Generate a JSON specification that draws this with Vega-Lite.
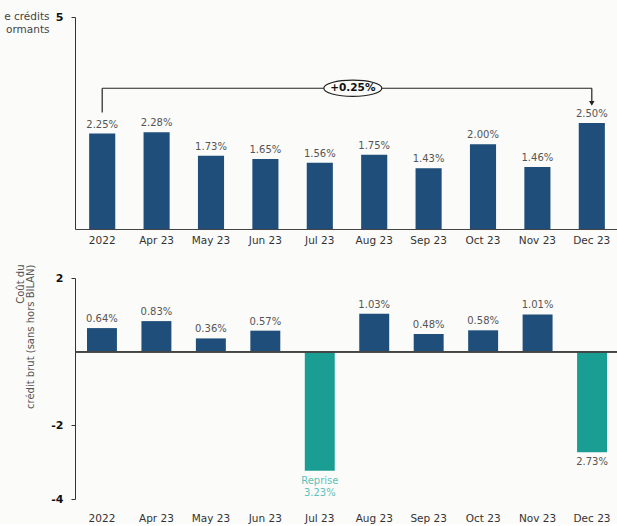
{
  "$schema": "https://vega.github.io/schema/vega-lite/v6.json",
  "padding": {"left": 3, "top": 11, "right": 0, "bottom": 0},
  "bounds": "flush",
  "spacing": 49,
  "background": "#fbfbfa",
  "config": {"view": {"stroke": null}, "font": "DejaVu Sans"},
  "datasets": {
    "main": [
      {"period": "2022", "npl": 2.25, "npl_label": "2.25%", "cost": 0.64, "cost_label": "0.64%"},
      {"period": "Apr 23", "npl": 2.28, "npl_label": "2.28%", "cost": 0.83, "cost_label": "0.83%"},
      {"period": "May 23", "npl": 1.73, "npl_label": "1.73%", "cost": 0.36, "cost_label": "0.36%"},
      {"period": "Jun 23", "npl": 1.65, "npl_label": "1.65%", "cost": 0.57, "cost_label": "0.57%"},
      {"period": "Jul 23", "npl": 1.56, "npl_label": "1.56%", "cost": -3.23, "cost_label": "Reprise\n3.23%"},
      {"period": "Aug 23", "npl": 1.75, "npl_label": "1.75%", "cost": 1.03, "cost_label": "1.03%"},
      {"period": "Sep 23", "npl": 1.43, "npl_label": "1.43%", "cost": 0.48, "cost_label": "0.48%"},
      {"period": "Oct 23", "npl": 2.0, "npl_label": "2.00%", "cost": 0.58, "cost_label": "0.58%"},
      {"period": "Nov 23", "npl": 1.46, "npl_label": "1.46%", "cost": 1.01, "cost_label": "1.01%"},
      {"period": "Dec 23", "npl": 2.5, "npl_label": "2.50%", "cost": -2.73, "cost_label": "2.73%"}
    ],
    "bracket": [
      {"from": "2022", "to": "2022", "y1": 2.75, "y2": 3.32},
      {"from": "2022", "to": "Dec 23", "y1": 3.32, "y2": 3.32},
      {"from": "Dec 23", "to": "Dec 23", "y1": 3.32, "y2": 3.0}
    ],
    "delta": [{"period": "Jul 23", "y": 3.32, "text": "+0.25%", "tip": 2.96}]
  },
  "vconcat": [
    {
      "width": 544,
      "height": 212,
      "layer": [
        {
          "data": {"name": "main"},
          "mark": {"type": "bar", "color": "#1f4e7a"},
          "encoding": {
            "x": {
              "field": "period", "type": "nominal", "sort": null,
              "scale": {"paddingInner": 0.52, "paddingOuter": 0.26},
              "axis": {"title": null, "labelAngle": 0, "ticks": false, "domainColor": "#444", "domainWidth": 1.2, "labelPadding": 6, "labelFontSize": 10.5, "labelColor": "#333"}
            },
            "y": {
              "field": "npl", "type": "quantitative",
              "scale": {"domain": [0, 5], "nice": false},
              "axis": {
                "values": [5], "grid": false, "domainColor": "#333", "tickColor": "#333", "tickSize": 4,
                "labelFontWeight": "bold", "labelFontSize": 11, "labelColor": "#111", "labelPadding": 8,
                "labelExpr": "'' + datum.value",
                "title": ["e crédits", "ormants"], "titleAngle": 0, "titleAlign": "right", "titleBaseline": "top",
                "titleX": -26, "titleY": -6, "titleFontSize": 10.5, "titleFontWeight": "normal", "titleColor": "#444", "titleLineHeight": 13
              }
            }
          }
        },
        {
          "data": {"name": "main"},
          "mark": {"type": "text", "baseline": "bottom", "dy": -4, "fontSize": 10, "color": "#555"},
          "encoding": {
            "x": {"field": "period", "type": "nominal", "sort": null},
            "y": {"field": "npl", "type": "quantitative"},
            "text": {"field": "npl_label"}
          }
        },
        {
          "data": {"name": "bracket"},
          "mark": {"type": "rule", "color": "#222", "strokeWidth": 1.2},
          "encoding": {
            "x": {"field": "from", "type": "nominal", "sort": null},
            "x2": {"field": "to"},
            "y": {"field": "y1", "type": "quantitative"},
            "y2": {"field": "y2"}
          }
        },
        {
          "data": {"name": "delta"},
          "mark": {"type": "point", "shape": "triangle-down", "filled": true, "color": "#222", "size": 30, "opacity": 1},
          "encoding": {
            "x": {"datum": "Dec 23", "type": "nominal"},
            "y": {"field": "tip", "type": "quantitative"}
          }
        },
        {
          "data": {"name": "delta"},
          "mark": {"type": "point", "shape": "M-1,0A1,0.28,0,1,0,1,0A1,0.28,0,1,0,-1,0Z", "filled": true, "fill": "#fbfbfa", "stroke": "#222", "strokeWidth": 1.2, "opacity": 1, "size": 3364, "xOffset": 33},
          "encoding": {
            "x": {"field": "period", "type": "nominal", "sort": null},
            "y": {"field": "y", "type": "quantitative"}
          }
        },
        {
          "data": {"name": "delta"},
          "mark": {"type": "text", "fontWeight": "bold", "fontSize": 10.5, "color": "#111", "xOffset": 33},
          "encoding": {
            "x": {"field": "period", "type": "nominal", "sort": null},
            "y": {"field": "y", "type": "quantitative"},
            "text": {"field": "text"}
          }
        }
      ]
    },
    {
      "width": 544,
      "height": 221,
      "data": {"name": "main"},
      "layer": [
        {
          "mark": {"type": "bar"},
          "encoding": {
            "x": {
              "field": "period", "type": "nominal", "sort": null,
              "scale": {"paddingInner": 0.45, "paddingOuter": 0.22},
              "axis": {"title": null, "labelAngle": 0, "ticks": false, "domain": false, "labelPadding": 14, "labelFontSize": 10.5, "labelColor": "#333"}
            },
            "y": {
              "field": "cost", "type": "quantitative",
              "scale": {"domain": [-4, 2], "nice": false},
              "axis": {
                "values": [2, -2, -4], "grid": false, "domainColor": "#333", "tickColor": "#333", "tickSize": 4,
                "labelFontWeight": "bold", "labelFontSize": 11, "labelColor": "#111", "labelPadding": 8,
                "labelExpr": "'' + datum.value",
                "title": ["Coût du", "crédit brut (sans hors BILAN)"], "titleAngle": -90, "titleAlign": "right", "titleBaseline": "top",
                "titleX": -60, "titleY": -14, "titleFontSize": 10, "titleFontWeight": "normal", "titleColor": "#555", "titleLineHeight": 10
              }
            },
            "color": {
              "condition": {"test": "datum.cost < 0", "value": "#1a9e94"},
              "value": "#1f4e7a"
            }
          }
        },
        {
          "mark": {"type": "rule", "color": "#444", "strokeWidth": 1.2},
          "encoding": {"y": {"datum": 0}}
        },
        {
          "transform": [{"filter": "datum.cost >= 0"}],
          "mark": {"type": "text", "baseline": "bottom", "dy": -4, "fontSize": 10, "color": "#555"},
          "encoding": {
            "x": {"field": "period", "type": "nominal", "sort": null},
            "y": {"field": "cost", "type": "quantitative"},
            "text": {"field": "cost_label"}
          }
        },
        {
          "transform": [{"filter": "datum.cost < 0"}],
          "mark": {"type": "text", "baseline": "top", "dy": 5, "fontSize": 10, "lineBreak": "\n", "lineHeight": 12},
          "encoding": {
            "x": {"field": "period", "type": "nominal", "sort": null},
            "y": {"field": "cost", "type": "quantitative"},
            "text": {"field": "cost_label"},
            "color": {
              "condition": {"test": "datum.period == 'Jul 23'", "value": "#5cc3ba"},
              "value": "#555"
            }
          }
        }
      ]
    }
  ]
}
